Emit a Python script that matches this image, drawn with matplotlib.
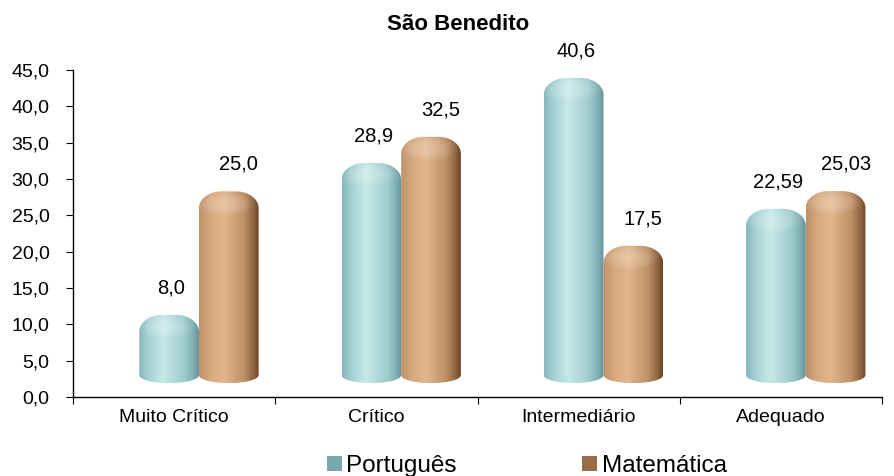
import matplotlib
matplotlib.use("Agg")
import matplotlib.pyplot as plt
import numpy as np
from matplotlib.path import Path
from matplotlib.patches import PathPatch, Patch

plt.rcParams['font.family'] = ['Liberation Sans', 'DejaVu Sans']

categorias = ["Muito Crítico", "Crítico", "Intermediário", "Adequado"]
portugues = [8.0, 28.9, 40.6, 22.59]
matematica = [25.0, 32.5, 17.5, 25.03]
rotulos_port = ["8,0", "28,9", "40,6", "22,59"]
rotulos_mat = ["25,0", "32,5", "17,5", "25,03"]
serie_nomes = ["Português", "Matemática"]
yticks = np.arange(0, 50, 5)

# shading profiles across the cylinder: (pos, rgb)
perfil_port = [(0.0, (132, 182, 186)), (0.15, (165, 208, 210)), (0.4, (200, 232, 232)),
               (0.75, (160, 204, 206)), (0.92, (125, 172, 176)), (1.0, (100, 145, 150))]
perfil_mat = [(0.0, (190, 145, 105)), (0.2, (215, 170, 128)), (0.42, (225, 182, 140)),
              (0.75, (190, 145, 102)), (0.92, (140, 98, 64)), (1.0, (105, 70, 42))]


def gradiente(perfil, topo_frac, nx=200, ny=400):
    pos = [p for p, _ in perfil]
    cols = np.array([c for _, c in perfil]) / 255.0
    t = np.linspace(0, 1, nx)
    linha = np.stack([np.interp(t, pos, cols[:, k]) for k in range(3)], axis=1)
    img = np.repeat(linha[None, :, :], ny, axis=0)
    # lighter elliptical top face
    yy, xx = np.mgrid[0:ny, 0:nx]
    cy = ny * topo_frac * 0.75
    d = ((xx - nx * 0.45) / (nx * 0.5)) ** 2 + ((yy - cy) / (ny * topo_frac * 0.7)) ** 2
    a = np.clip(1 - d, 0, 1) * 0.22
    img = img * (1 - a[..., None]) + a[..., None]
    return img


def cilindro(ax, xc, w, topo, perfil, base=1.9):
    x0, x1 = xc - w / 2, xc + w / 2
    ry = 1.1      # bottom ellipse half-height (data units)
    rt = 2.3      # rounded cap height
    rx = w * 0.38
    k = 0.55
    verts = [
        (x0, base + ry),
        (x0, topo - rt),
        (x0, topo - rt + rt * k), (x0 + rx - rx * k, topo), (x0 + rx, topo),
        (x1 - rx, topo),
        (x1 - rx + rx * k, topo), (x1, topo - rt + rt * k), (x1, topo - rt),
        (x1, base + ry),
        (x1, base + ry - ry * k), (xc + w / 2 * k, base), (xc, base),
        (xc - w / 2 * k, base), (x0, base + ry - ry * k), (x0, base + ry),
        (x0, base + ry),
    ]
    codes = [Path.MOVETO, Path.LINETO,
             Path.CURVE4, Path.CURVE4, Path.CURVE4,
             Path.LINETO,
             Path.CURVE4, Path.CURVE4, Path.CURVE4,
             Path.LINETO,
             Path.CURVE4, Path.CURVE4, Path.CURVE4,
             Path.CURVE4, Path.CURVE4, Path.CURVE4,
             Path.CLOSEPOLY]
    patch = PathPatch(Path(verts, codes), facecolor='none', edgecolor='none')
    ax.add_patch(patch)
    img = gradiente(perfil, rt / (topo - base))
    im = ax.imshow(img, extent=(x0, x1, base, topo), aspect='auto',
                   origin='upper', interpolation='bilinear', zorder=2)
    im.set_clip_path(patch)


fig = plt.figure(figsize=(8.94, 4.76), dpi=100)
ax = fig.add_axes([0.0817, 0.166, 0.905, 0.687])

w = 0.295
for i in range(len(categorias)):
    xp = i + 0.475
    xm = i + 0.77
    cilindro(ax, xp, w, portugues[i] + 3.3, perfil_port)
    cilindro(ax, xm, w, matematica[i] + 3.3, perfil_mat)
    ax.text(xp + 0.01, portugues[i] + 7.0, rotulos_port[i], ha='center', va='center', fontsize=14.5)
    ax.text(xm + 0.05, matematica[i] + 7.0, rotulos_mat[i], ha='center', va='center', fontsize=14.5)

ax.set_xlim(0, 4)
ax.set_ylim(0, 45)
ax.set_yticks(yticks)
ax.set_yticklabels([f"{v:.1f}".replace('.', ',') for v in yticks], fontsize=14)
ax.set_xticks([0, 1, 2, 3, 4])
ax.set_xticklabels([])
ax.set_xticks([0.5, 1.5, 2.5, 3.5], minor=True)
ax.set_xticklabels(categorias, minor=True, fontsize=14)
ax.tick_params(axis='x', which='minor', length=0, pad=9)
ax.tick_params(axis='x', which='major', length=5, direction='out')
ax.tick_params(axis='y', length=5, direction='out', pad=12)
for s in ['top', 'right']:
    ax.spines[s].set_visible(False)
ax.spines['left'].set_linewidth(1.0)
ax.spines['bottom'].set_linewidth(1.0)

fig.text(458 / 894, 1 - 25 / 476, "São Benedito", ha='center', va='center',
         fontsize=16, fontweight='bold')

handles = [Patch(facecolor=(0.47, 0.66, 0.68), edgecolor='none'),
           Patch(facecolor=(0.60, 0.43, 0.28), edgecolor='none')]
fig.legend(handles, serie_nomes, loc='center left', bbox_to_anchor=(327 / 894, 1 - 466 / 476),
           ncol=2, frameon=False, fontsize=17.5, handlelength=0.6, handleheight=0.6,
           handletextpad=0.2, columnspacing=5.15, borderaxespad=0, borderpad=0)

fig.savefig("out.png", dpi=100)
